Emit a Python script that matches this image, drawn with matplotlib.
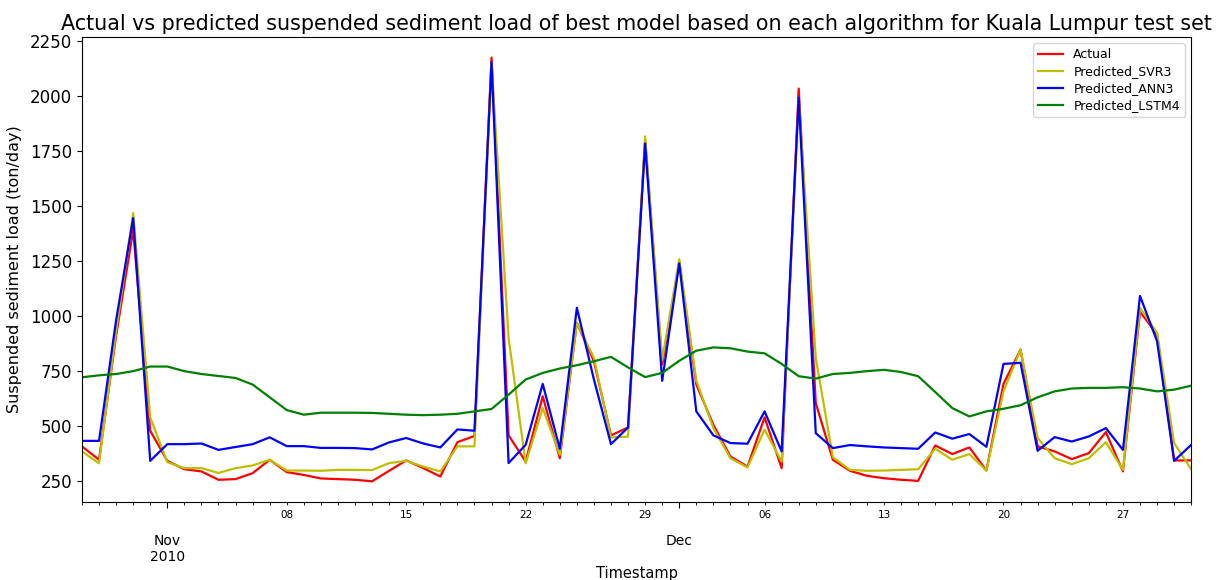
import matplotlib
matplotlib.use('Agg')
import matplotlib.pyplot as plt
import matplotlib.dates as mdates
import numpy as np
import pandas as pd

plt.rcParams['font.family'] = 'DejaVu Sans'

# daily test set, 27 Oct 2010 to 31 Dec 2010
dates = pd.date_range('2010-10-27', '2010-12-31', freq='D')

actual = [407, 346, 910, 1391, 478, 341, 303, 293, 255, 258, 285, 346,
          290, 277, 261, 258, 255, 248, 296, 343, 308, 270, 426, 454,
          2175, 457, 338, 635, 353, 969, 794, 457, 493, 1800, 780, 1245,
          688, 505, 361, 315, 539, 308, 2034, 604, 346, 296, 273, 262,
          255, 250, 411, 372, 402, 297, 691, 847, 407, 384, 349, 376,
          472, 293, 1019, 916, 343, 343]
svr3 = [384, 330, 930, 1468, 539, 335, 308, 308, 286, 308, 320, 346,
        297, 297, 296, 300, 300, 299, 331, 341, 315, 293, 407, 407,
        2150, 900, 330, 581, 369, 969, 809, 448, 451, 1817, 800, 1258,
        706, 490, 353, 311, 483, 338, 1990, 809, 358, 300, 296, 297,
        300, 303, 396, 346, 372, 297, 657, 847, 445, 353, 326, 353,
        426, 300, 1037, 923, 422, 303]
ann3 = [432, 432, 980, 1445, 341, 417, 417, 420, 391, 404, 417, 448,
        408, 408, 400, 400, 399, 393, 425, 445, 420, 402, 484, 478,
        2155, 331, 414, 691, 396, 1037, 711, 417, 493, 1784, 705, 1239,
        566, 457, 422, 419, 566, 384, 1993, 467, 399, 413, 407, 402,
        399, 396, 470, 442, 463, 405, 782, 787, 387, 449, 429, 452,
        490, 391, 1091, 885, 341, 414]
lstm4 = [721, 730, 736, 749, 770, 770, 749, 736, 727, 718, 688, 630,
         572, 551, 560, 560, 560, 559, 555, 551, 549, 551, 555, 566,
         577, 642, 711, 741, 761, 776, 794, 814, 766, 722, 741, 796,
         842, 857, 853, 838, 830, 782, 726, 715, 736, 741, 749, 755,
         745, 726, 654, 581, 543, 566, 578, 594, 630, 657, 670, 673,
         673, 676, 670, 657, 665, 683]

series = [('Actual', actual, 'r'),
          ('Predicted_SVR3', svr3, 'y'),
          ('Predicted_ANN3', ann3, 'b'),
          ('Predicted_LSTM4', lstm4, 'g')]

fig = plt.figure(figsize=(12.18, 5.8), dpi=100)
ax = fig.add_axes([0.0673, 0.1345, 0.9107, 0.8015])

for name, vals, col in series:
    ax.plot(dates, vals, color=col, linewidth=1.6, label=name)

ax.set_xlim(dates[0], dates[-1])
ax.set_ylim(154, 2268)
ax.set_yticks(np.arange(250, 2251, 250))
ax.tick_params(axis='y', labelsize=12)

# pandas-like date ticks: months major, Mondays labelled, every day a minor tick
ax.xaxis.set_major_locator(mdates.MonthLocator())
ax.xaxis.set_minor_locator(mdates.DayLocator())


def minor_fmt(x, pos=None):
    d = mdates.num2date(x)
    return d.strftime('%d') if d.weekday() == 0 else ''


def major_fmt(x, pos=None):
    d = mdates.num2date(x)
    return d.strftime('%b\n%Y') if d.month == 11 else d.strftime('%b')


ax.xaxis.set_minor_formatter(plt.FuncFormatter(minor_fmt))
ax.xaxis.set_major_formatter(plt.FuncFormatter(major_fmt))
ax.tick_params(axis='x', which='minor', labelsize=7.5, length=2.5)
ax.tick_params(axis='x', which='major', labelsize=10, length=4, pad=19)

ax.set_xlabel('Timestamp', fontsize=10.5, labelpad=1)
ax.set_ylabel('Suspended sediment load (ton/day)', fontsize=11.5, labelpad=6)
ax.set_title('Actual vs predicted suspended sediment load of best model based on each algorithm for Kuala Lumpur test set',
             fontsize=14.9, pad=5)

ax.legend(loc='upper right', fontsize=9, labelspacing=0.32)

fig.savefig('out.png', dpi=100)
